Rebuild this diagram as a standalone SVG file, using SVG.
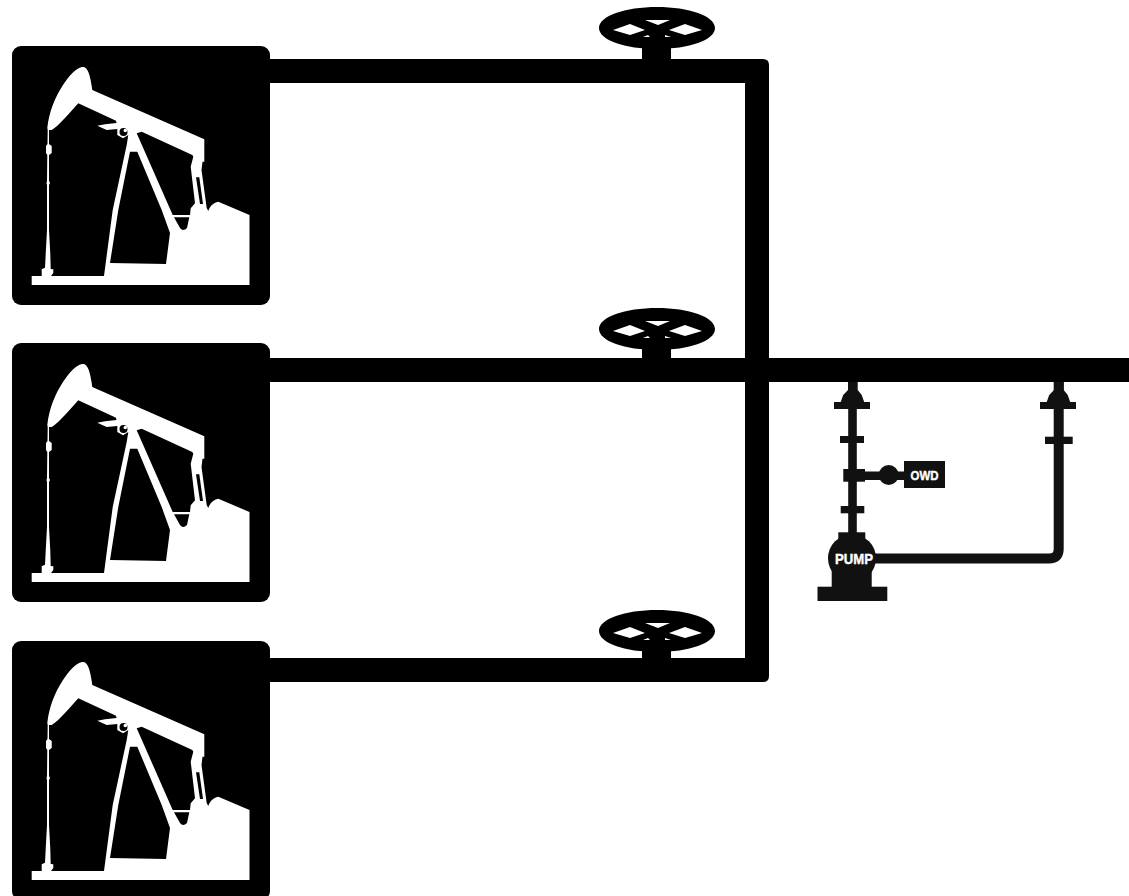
<svg xmlns="http://www.w3.org/2000/svg" width="1129" height="896" viewBox="0 0 1129 896">
<style>
.k{fill:#000}.w{fill:#fff}.d{fill:#111}
.thin{fill:none;stroke:#111}
.lbl{font-family:"Liberation Sans",Arial,sans-serif;font-weight:700;fill:#fff;stroke:#fff;stroke-width:.4;text-anchor:middle}
</style>
<defs>
<g id="jack">
<rect class="k" x="12" y="46" width="258" height="259" rx="9"/>
<path class="w" fill-rule="evenodd" d="M47.300,128C49,112 55,97 63,85C69,76 76,68 82,67C87,66 90,72 92.300,90L204.300,139.300V161.700L202.500,161.700L201.500,170L206.700,208L208.300,211C210,206 213,203 218.300,201.700L249.500,215V285H31.700V276H41.700V269.300L45,267.700L45.700,254L47,230V185L46.500,183L47,181L47.300,155L46,153V146L47.500,144L47.700,130Z
M49,130V144L51.700,146V153L49,155V181L50,183L49,185V230L50.300,254L50.700,269L53.300,269.300V273L51,276H104L112.700,210L126.700,145L128.300,135L123,138.300L117.300,135V129L106.700,130L97.300,125.700L105,124.300L116.500,123L116,120.700L78.300,103.300C70,112 60,125 51.700,130Z
M137.300,151.700H130L118.300,210L110,263L166,264L170,233L161.700,210Z
M136.700,133.300L172.700,215H190L190.700,208.300L195,203.300L190.700,166.700L193.300,156.700L192.300,155L141.700,131.700L140,132.300Z
M174,217.300L180,228Q183,232 187,228L189.300,217.300Z
M196,177.300H199.300L203,204H200Z
M119.500,132a4,4 0 1 0 8,0a4,4 0 1 0 -8,0Z
M123.500,130.500a1.800,1.800 0 1 0 3.600,0a1.800,1.800 0 1 0 -3.600,0Z"/>
</g>
<g id="wheel">
<path class="k" fill-rule="evenodd" d="M-58,0C-58,-12 -32,-21 0,-21C32,-21 58,-12 58,0C58,12 32,21 0,21C-32,21 -58,12 -58,0ZM-44,2L-27,-4L-12,2L-27,7ZM12,2L28,-4L45,2L28,7ZM-12,-8L13,-8L1,-3ZM-14,9L-9,7L-7,9ZM8,7L14,9L8,9Z"/>
<rect class="k" x="-15" y="12" width="29" height="22"/>
</g>
<path id="reducer" d="M-4.700,0V8L-9.500,13L-12,20H-18.700V27H17.300V20H11.500L9,13L5,8V0Z"/>
</defs>
<g id="connectors">
<path class="k" d="M270,59H763Q769,59 769,65V676Q769,682 763,682H270V658H745V83H270Z"/>
<rect class="k" x="270" y="358" width="859" height="24"/>
<path class="thin" stroke-width="8.600" d="M852.500,382V540"/>
<path class="thin" stroke-width="10" d="M868,558.500H1049Q1058.700,558.500 1058.700,549V382"/>
<path class="thin" stroke-width="8.500" d="M860,475.800H905"/>
</g>
<g id="well-1"><use href="#jack"/></g>
<g id="well-2"><use href="#jack" y="297"/></g>
<g id="well-3"><use href="#jack" y="595"/></g>
<g id="valve-1"><use href="#wheel" x="657" y="28"/></g>
<g id="valve-2"><use href="#wheel" x="657" y="329"/></g>
<g id="valve-3"><use href="#wheel" x="657" y="631"/></g>
<g id="discharge-left" class="d">
<use href="#reducer" x="852.700" y="382"/>
<rect x="840" y="436" width="24" height="7"/>
<rect x="843.300" y="469" width="21.700" height="12.700"/>
<rect x="840.700" y="506" width="23.600" height="7.300"/>
</g>
<g id="discharge-right" class="d">
<use href="#reducer" x="1058.700" y="382"/>
<rect x="1045" y="436.700" width="27.700" height="7.300"/>
</g>
<g id="owd">
<circle class="d" cx="888.700" cy="475" r="10"/>
<rect class="d" x="904" y="461" width="41" height="27"/>
<text class="lbl" x="924.500" y="480" font-size="12.500" textLength="28" lengthAdjust="spacingAndGlyphs">OWD</text>
</g>
<g id="pump">
<rect class="d" x="838.300" y="532.300" width="27" height="14"/>
<circle class="d" cx="852" cy="558.300" r="24"/>
<rect class="d" x="831.700" y="570" width="40" height="18"/>
<rect class="d" x="817.500" y="586.700" width="69.800" height="14.300"/>
<text class="lbl" x="854" y="563.500" font-size="14" textLength="38" lengthAdjust="spacingAndGlyphs">PUMP</text>
</g>
</svg>
